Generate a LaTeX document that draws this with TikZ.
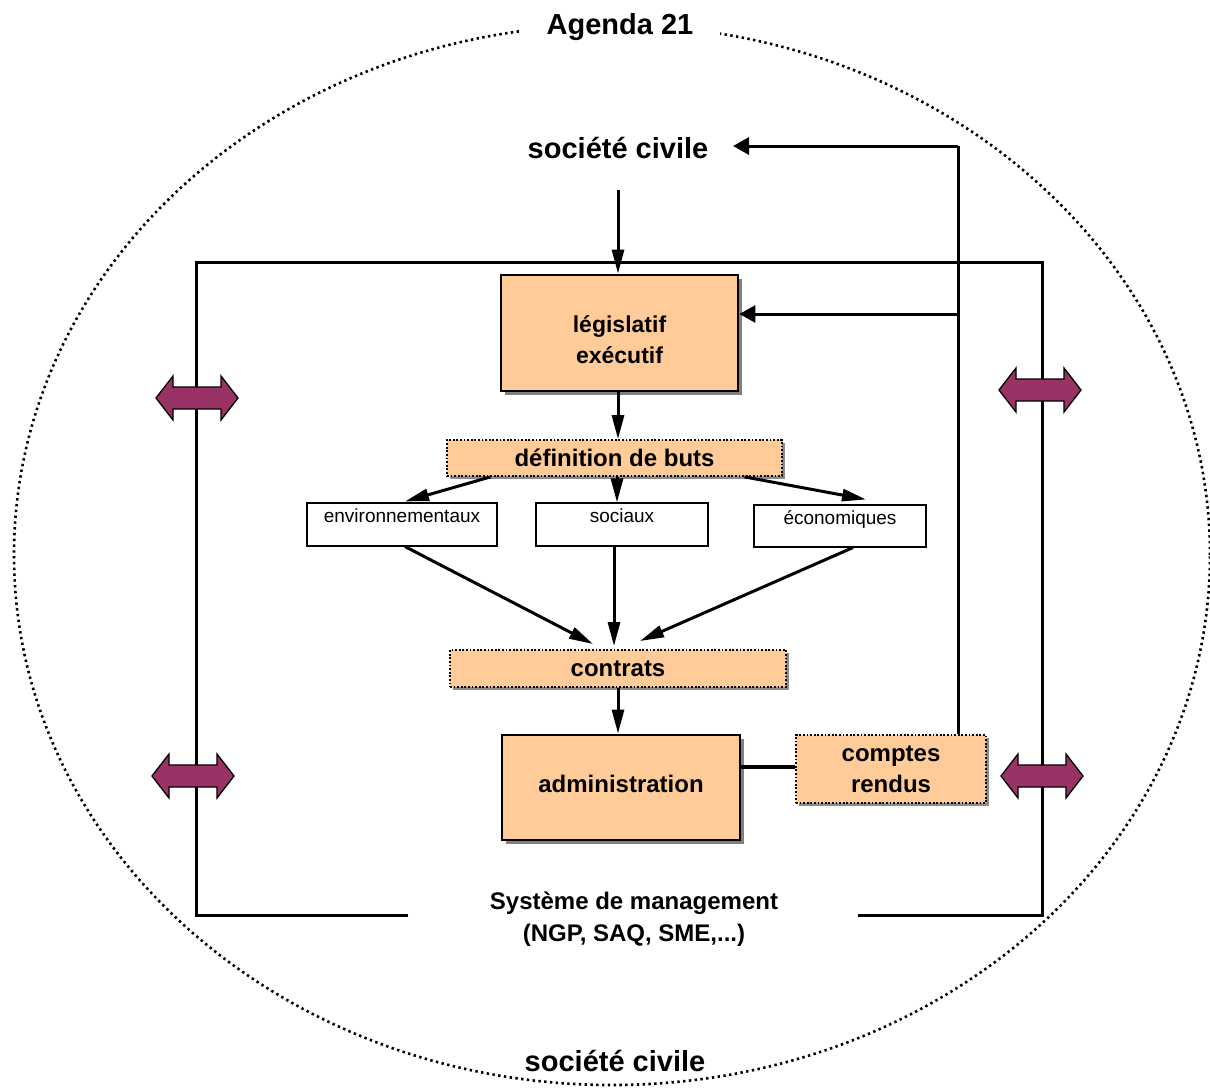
\documentclass[tikz,border=0pt]{standalone}
\usepackage{fontspec}
\setmainfont{Liberation Sans}
\usetikzlibrary{arrows.meta,shadows,calc}
\definecolor{peach}{HTML}{FFCC99}
\definecolor{plum}{HTML}{993366}
\begin{document}
\begin{tikzpicture}[x=1pt,y=-1pt,
  bigtxt/.style={font=\fontsize{29}{33}\selectfont\bfseries},
  boldtxt/.style={font=\fontsize{24}{31}\selectfont\bfseries, align=center},
  smalltxt/.style={font=\fontsize{19}{22}\selectfont},
  solidbox/.style={draw, line width=2.8pt, fill=peach, inner sep=0pt,
     drop shadow={shadow xshift=4pt, shadow yshift=-4pt, fill=black!50, opacity=1}},
  dotbox/.style={draw, line width=1.8pt, dash pattern=on 1.8pt off 1.8pt, fill=peach, boldtxt, inner sep=0pt,
     drop shadow={shadow xshift=3pt, shadow yshift=-3pt, fill=black!45, opacity=1}},
  goalbox/.style={draw, line width=1.1pt, fill=white, smalltxt, inner sep=0pt, text height=13pt, text depth=17pt},
  arr/.style={line width=3pt, -{Triangle[length=24pt,width=12pt]}},
  arrw/.style={line width=3pt, -{Triangle[length=16pt,width=17pt]}},
  frame/.style={line width=3pt},
  dblarr/.style={draw=black, line width=1.3pt, fill=plum, line join=miter},
]
\useasboundingbox (0,0) rectangle (1210,1090);
\fill[white] (0,0) rectangle (1210,1090);

% outer dotted ellipse
\draw[line width=2.6pt, dash pattern=on 2.4pt off 3.4pt] (612,555) ellipse [x radius=598pt, y radius=530pt];
\node[bigtxt, fill=white, inner xsep=27pt, inner ysep=4pt] (agenda) at (620,27) {Agenda 21};
\node[bigtxt, fill=white, inner xsep=6pt, inner ysep=4pt] (sc2) at (615,1061) {société civile};

% management system frame
\draw[frame] (408,915) -- (196,915) -- (196,262) -- (1042,262) -- (1042,915) -- (858,915);
\node[boldtxt, font=\fontsize{24}{32}\selectfont\bfseries] (sys) at (634,919) {Système de management\\(NGP, SAQ, SME,...)};

% nodes
\node[bigtxt] (sc1) at (618,148) {société civile};
\node[solidbox, minimum width=237pt, minimum height=116pt,
      label={[boldtxt, font=\fontsize{23}{31}\selectfont\bfseries, yshift=-7pt]center:législatif\\exécutif}] (leg) at (619.5,333) {};
\node[dotbox, minimum width=335pt, minimum height=36pt] (def) at (614.5,458) {définition de buts};
\node[goalbox, minimum width=190pt, minimum height=43pt] (env) at (402,524.5) {environnementaux};
\node[goalbox, minimum width=172pt, minimum height=43pt] (soc) at (622,524.5) {sociaux};
\node[goalbox, minimum width=172pt, minimum height=42pt] (eco) at (840,526) {économiques};
\node[dotbox, minimum width=336pt, minimum height=37pt] (con) at (618,668.5) {contrats};
\node[solidbox, minimum width=238pt, minimum height=105pt,
      label={[boldtxt, yshift=4pt]center:administration}] (adm) at (621,787.5) {};
\node[dotbox, minimum width=190pt, minimum height=68pt] (cr) at (891,769) {comptes\\rendus};

% connectors
\coordinate (sctip) at (733,146);
\coordinate (fbtop) at (958,146);
\coordinate (fbmid) at (958,314);
\draw[arr] (618,190) -- (leg.north -| 618,0);
\draw[frame] (cr.north -| fbtop) -- (fbtop);
\draw[arrw] (fbtop) -- (sctip);
\draw[arrw] (fbmid) -- (fbmid -| leg.east);
\draw[arr] (leg.south -| 618,0) -- (def.north -| 618,0);
\draw[arr] ($(def.south)+(-124,0)$) -- ($(env.north)+(3,-1)$);
\draw[arr] (def.south -| 617,0) -- (soc.north -| 617,0);
\draw[arr] ($(def.south)+(130,0)$) -- ($(eco.north)+(26,-5)$);
\draw[arr] ($(env.south)+(3,0)$) -- (593,644);
\draw[arr] (soc.south -| 614,0) -- (614,646);
\draw[arr] ($(eco.south)+(13,0)$) -- (640,641);
\draw[arr] (con.south -| 618,0) -- (adm.north -| 618,0);
\draw[line width=3.5pt] (cr.west |- 0,767) -- (adm.east |- 0,767);

% double arrows
\foreach \cx/\cy in {197/398, 193/776, 1040/390, 1042/776}{
  \draw[dblarr] (\cx,\cy) ++(-41,0) -- ++(17,-22) -- ++(0,11) -- ++(48,0) -- ++(0,-11)
     -- ++(17,22) -- ++(-17,22) -- ++(0,-11) -- ++(-48,0) -- ++(0,11) -- cycle;
}
\end{tikzpicture}
\end{document}
